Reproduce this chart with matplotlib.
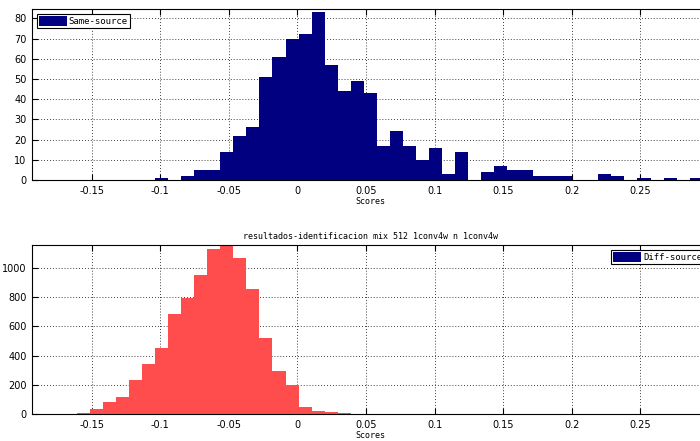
import numpy as np
import matplotlib
matplotlib.use("Agg")
import matplotlib.pyplot as plt

# histogram bins shared by both plots (same centres)
bin_start = 0.00087
bin_width = 0.0095

# same-source counts, first bin index -11
same_first = -11
same_counts = [1, 0, 2, 5, 5, 14, 22, 26, 51, 61, 70, 72, 83, 57, 44, 49, 43,
               17, 24, 17, 10, 16, 3, 14, 0, 4, 7, 5, 5, 2, 2, 2, 0, 0, 3, 2,
               0, 1, 0, 1, 0, 1]

# diff-source counts, first bin index -20
diff_first = -20
diff_counts = [3, 3, 4, 10, 38, 86, 116, 232, 343, 450, 682, 791, 948, 1125,
               1154, 1066, 854, 518, 295, 200, 52, 22, 16, 9, 3, 3, 2, 2, 2,
               0, 3]

xticks = [-0.15, -0.1, -0.05, 0, 0.05, 0.1, 0.15, 0.2, 0.25]
xticklabels = ["-0.15", "-0.1", "-0.05", "0", "0.05", "0.1", "0.15", "0.2", "0.25"]
xlim = (-0.1934, 0.30)

title = "resultados-identificacion mix 512 1conv4w n 1conv4w"
mono = "DejaVu Sans Mono"

fig = plt.figure(figsize=(7, 4.41), dpi=100)
ax1 = fig.add_axes([32/700, 261/441, 677/700, 171/441])
ax2 = fig.add_axes([32/700, 26.7/441, 677/700, 169.3/441])


def style(ax, yticks, ylim):
    ax.set_xlim(*xlim)
    ax.set_ylim(*ylim)
    ax.set_xticks(xticks)
    ax.set_xticklabels(xticklabels)
    ax.set_yticks(yticks)
    ax.tick_params(direction="in", top=True, right=True, length=4,
                   width=0.8, labelsize=7, pad=4)
    ax.set_axisbelow(True)
    ax.grid(True, color="k", linestyle=(0, (1, 2.5)), linewidth=0.6)
    for s in ax.spines.values():
        s.set_color("k")
        s.set_linewidth(0.8)
    ax.set_xlabel("Scores", family=mono, fontsize=6, labelpad=1)


edges1 = bin_start + bin_width * np.arange(same_first, same_first + len(same_counts))
ax1.bar(edges1, same_counts, width=bin_width, align="edge", color="#000080",
        linewidth=0, label="Same-source")
style(ax1, range(0, 81, 10), (0, 84.6))
leg1 = ax1.legend(loc="upper left", prop={"family": mono, "size": 6.5},
                  handlelength=3.1, handleheight=1.3, handletextpad=0.2,
                  borderpad=0.25, borderaxespad=0.5, fancybox=False,
                  framealpha=1, edgecolor="k")
leg1.get_frame().set_linewidth(0.8)

edges2 = bin_start + bin_width * np.arange(diff_first, diff_first + len(diff_counts))
ax2.bar(edges2, diff_counts, width=bin_width, align="edge", color="#ff4d4d",
        linewidth=0, label="Diff-source")
style(ax2, range(0, 1001, 200), (0, 1154))
ax2.set_title(title, family=mono, fontsize=6, pad=4)
leg2 = ax2.legend(loc="upper right", prop={"family": mono, "size": 6.5},
                  handlelength=3.1, handleheight=1.3, handletextpad=0.2,
                  borderpad=0.25, borderaxespad=0.5, fancybox=False,
                  framealpha=1, edgecolor="k")
leg2.get_frame().set_linewidth(0.8)
for p in leg2.get_patches():
    p.set_facecolor("#000080")

fig.savefig("out.png", dpi=100)
